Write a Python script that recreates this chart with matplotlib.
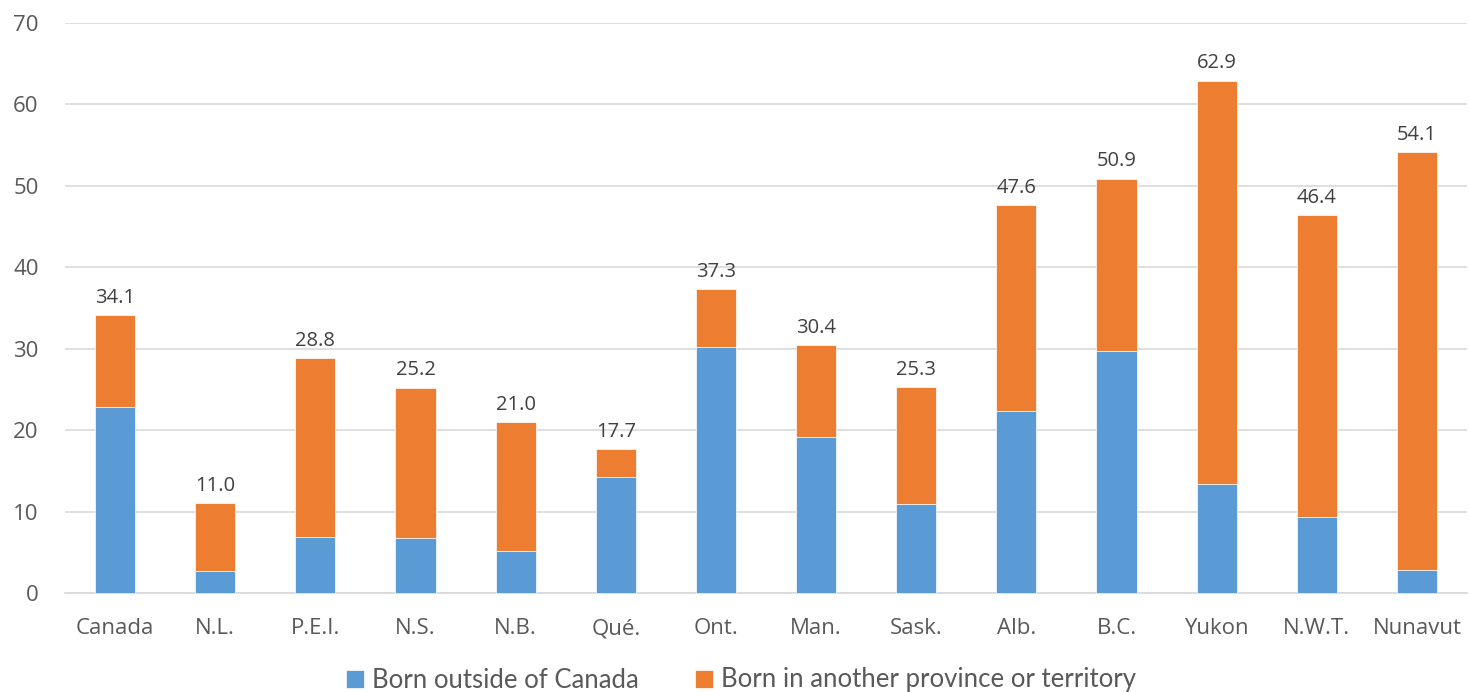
import matplotlib
matplotlib.use("Agg")
import matplotlib.pyplot as plt
import numpy as np

categories = ["Canada", "N.L.", "P.E.I.", "N.S.", "N.B.", "Qué.", "Ont.", "Man.",
              "Sask.", "Alb.", "B.C.", "Yukon", "N.W.T.", "Nunavut"]
totals = [34.1, 11.0, 28.8, 25.2, 21.0, 17.7, 37.3, 30.4, 25.3, 47.6, 50.9, 62.9, 46.4, 54.1]
born_outside = [22.8, 2.7, 6.9, 6.8, 5.2, 14.2, 30.2, 19.2, 10.9, 22.3, 29.7, 13.4, 9.3, 2.8]
born_other = [round(t - b, 1) for t, b in zip(totals, born_outside)]
series_names = ["Born outside of Canada", "Born in another province or territory"]
yticks = [0, 10, 20, 30, 40, 50, 60, 70]

blue = "#5B9BD5"
orange = "#ED7D31"
txt = "#595959"

fig = plt.figure(figsize=(14.69, 6.92), dpi=100)
ax = fig.add_axes([65/1469, 1 - 593/692, 1 - 65/1469 - 2/1469, (593 - 23)/692])

x = np.arange(len(categories))
w = 0.4
b1 = ax.bar(x, born_outside, w, color=blue, label=series_names[0], zorder=3,
            edgecolor="white", linewidth=0.5)
b2 = ax.bar(x, born_other, w, bottom=born_outside, color=orange, label=series_names[1],
            zorder=3, edgecolor="white", linewidth=0.5)

for xi, t in zip(x, totals):
    ax.text(xi, t + 0.9, f"{t:.1f}", ha="center", va="bottom", fontsize=14.5,
            color="#404040", family="Open Sans")

ax.set_xlim(-0.5, len(categories) - 0.5)
ax.set_ylim(0, 70)
ax.set_yticks(yticks)
ax.set_xticks(x)
ax.set_xticklabels(categories, fontsize=16, color=txt, family="Open Sans")
ax.set_yticklabels([str(v) for v in yticks], fontsize=16, color=txt, family="Open Sans")
ax.tick_params(axis="both", length=0)
ax.tick_params(axis="x", pad=18)
ax.tick_params(axis="y", pad=19)
ax.grid(axis="y", color="#D9D9D9", linewidth=1.2, zorder=0)
for s in ["top", "right", "left"]:
    ax.spines[s].set_visible(False)
ax.spines["bottom"].set_color("#D9D9D9")
ax.spines["bottom"].set_linewidth(1.2)

leg = fig.legend(handles=[b1, b2], labels=series_names, loc="center",
                 bbox_to_anchor=(741/1469, 1 - 680/692), ncol=2, frameon=False,
                 prop={"family": "Lato", "size": 18.5}, handlelength=0.7, handleheight=0.7,
                 handletextpad=0.3, columnspacing=2.2)
for t in leg.get_texts():
    t.set_color(txt)

fig.savefig("out.png", dpi=100)
